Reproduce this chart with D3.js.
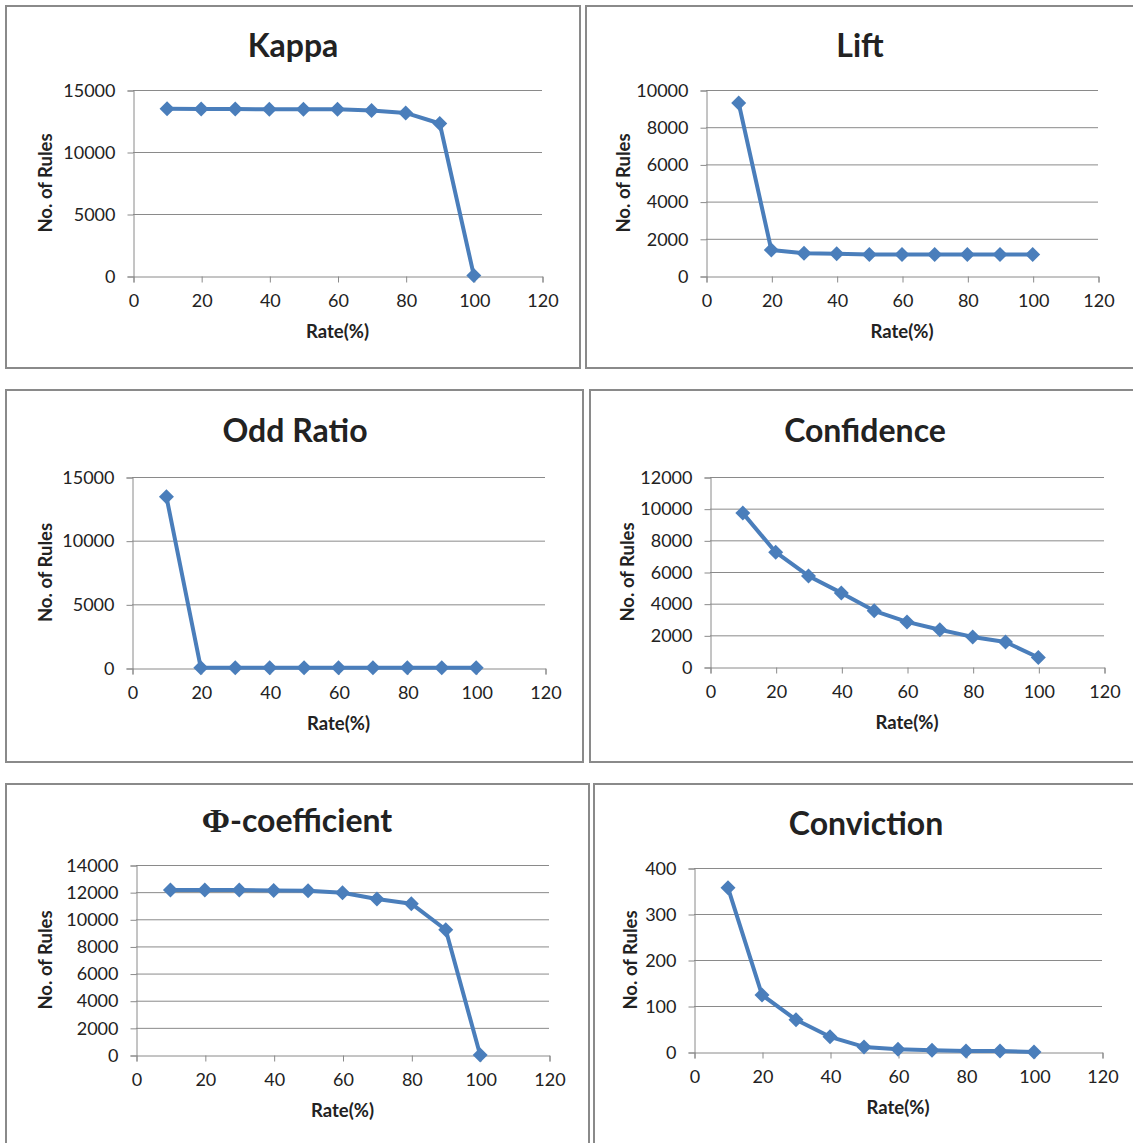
<!DOCTYPE html>
<html>
<head>
<meta charset="utf-8">
<script src="https://cdn.jsdelivr.net/npm/d3@7"></script>
<style>
  body { margin: 0; background: #fff; }
  svg { display: block; }
  text { font-family: Lato, "Open Sans", sans-serif; fill: #222; }
</style>
</head>
<body>
<svg width="1133" height="1143"></svg>
<script>
// values
var rates = [10, 20, 30, 40, 50, 60, 70, 80, 90, 100];
var xTicks = [0, 20, 40, 60, 80, 100, 120];

var kappaRules = [13480, 13460, 13460, 13450, 13450, 13440, 13350, 13150, 12300, 50];
var liftRules = [9300, 1400, 1220, 1200, 1150, 1150, 1150, 1150, 1150, 1150];
var oddRatioRules = [13450, 10, 10, 10, 10, 10, 10, 10, 10, 10];
var confidenceRules = [9720, 7250, 5750, 4680, 3550, 2850, 2350, 1900, 1580, 600];
var phiRules = [12160, 12160, 12150, 12120, 12110, 11950, 11500, 11150, 9230, 0];
var convictionRules = [357, 124, 70, 33, 11, 6, 4, 2, 2, 0];

var kappaTicks = [0, 5000, 10000, 15000];
var liftTicks = [0, 2000, 4000, 6000, 8000, 10000];
var oddRatioTicks = [0, 5000, 10000, 15000];
var confidenceTicks = [0, 2000, 4000, 6000, 8000, 10000, 12000];
var phiTicks = [0, 2000, 4000, 6000, 8000, 10000, 12000, 14000];
var convictionTicks = [0, 100, 200, 300, 400];

// layout of the six framed charts
var panels = [
  { title: "Kappa", values: kappaRules, yTicks: kappaTicks,
    box: [6, 6, 574, 362], plot: [133, 90, 542, 276], yLab: 46, titleY: 57, titleX: 293 },
  { title: "Lift", values: liftRules, yTicks: liftTicks,
    box: [586, 6, 560, 362], plot: [706, 90, 1098, 276], yLab: 624, titleY: 57, titleX: 860 },
  { title: "Odd Ratio", values: oddRatioRules, yTicks: oddRatioTicks,
    box: [6, 390, 577, 372], plot: [132, 477, 545, 668], yLab: 46, titleY: 442, titleX: 295 },
  { title: "Confidence", values: confidenceRules, yTicks: confidenceTicks,
    box: [590, 390, 560, 372], plot: [710, 477, 1104, 667], yLab: 628, titleY: 442, titleX: 865 },
  { title: "-coefficient", phi: true, values: phiRules, yTicks: phiTicks,
    box: [6, 784, 583, 400], plot: [136, 865, 549, 1055], yLab: 46, titleY: 832, titleX: 297 },
  { title: "Conviction", values: convictionRules, yTicks: convictionTicks,
    box: [594, 784, 560, 400], plot: [694, 868, 1102, 1052], yLab: 631, titleY: 835, titleX: 866 }
];

var svg = d3.select("svg");
var blue = "#4a7ebb";
var grey = "#8a8a8a";

panels.forEach(function(p) {
  var g = svg.append("g");
  var b = p.box;

  g.append("rect")
    .attr("x", b[0]).attr("y", b[1])
    .attr("width", b[2]).attr("height", b[3])
    .attr("fill", "none")
    .attr("stroke", grey)
    .attr("stroke-width", 2);

  var x = d3.scaleLinear().domain([0, 120]).range([p.plot[0], p.plot[2]]);
  var y = d3.scaleLinear()
    .domain([0, d3.max(p.yTicks)])
    .range([p.plot[3], p.plot[1]]);

  // horizontal gridlines
  g.selectAll(".grid")
    .data(p.yTicks.filter(function(t) { return t > 0; }))
    .enter()
    .append("line")
    .attr("x1", p.plot[0]).attr("x2", p.plot[2])
    .attr("y1", function(d) { return y(d) + 0.5; })
    .attr("y2", function(d) { return y(d) + 0.5; })
    .attr("stroke", grey)
    .attr("stroke-width", 1);

  var yAxis = g.append("g")
    .attr("transform", "translate(" + (p.plot[0] + 0.5) + ",0.5)")
    .call(d3.axisLeft(y).tickValues(p.yTicks).tickSize(6).tickPadding(12)
      .tickFormat(d3.format("d")));

  var xAxis = g.append("g")
    .attr("transform", "translate(0.5," + (p.plot[3] + 0.5) + ")")
    .call(d3.axisBottom(x).tickValues(xTicks).tickSize(6).tickPadding(12)
      .tickFormat(d3.format("d")));

  [xAxis, yAxis].forEach(function(a) {
    a.select(".domain").attr("stroke", grey);
    a.selectAll(".tick line").attr("stroke", grey);
    a.selectAll(".tick text")
      .attr("fill", "#222")
      .style("font-size", "18px")
      .style("font-family", "Lato, 'Open Sans', sans-serif");
  });

  // title
  var t = g.append("text")
    .attr("x", p.titleX).attr("y", p.titleY)
    .attr("text-anchor", "middle")
    .style("font-size", "32px")
    .style("font-weight", "bold");
  if (p.phi) {
    t.append("tspan")
      .style("font-family", "'Liberation Serif', 'DejaVu Serif', serif")
      .style("font-size", "34px")
      .text("\u03A6");
  }
  t.append("tspan").text(p.title);

  // axis titles
  g.append("text")
    .attr("x", (p.plot[0] + p.plot[2]) / 2)
    .attr("y", p.plot[3] + 62)
    .attr("text-anchor", "middle")
    .style("font-size", "18.5px")
    .style("font-weight", "bold")
    .text("Rate(%)");

  g.append("text")
    .attr("transform", "translate(" + (p.yLab + 6) + "," + ((p.plot[1] + p.plot[3]) / 2) + ") rotate(-90)")
    .attr("text-anchor", "middle")
    .style("font-size", "18.5px")
    .style("font-weight", "bold")
    .text("No. of Rules");

  // series
  var line = d3.line()
    .x(function(d, i) { return x(rates[i]); })
    .y(function(d) { return y(d); });

  g.append("path")
    .datum(p.values)
    .attr("d", line)
    .attr("fill", "none")
    .attr("stroke", blue)
    .attr("stroke-width", 4)
    .attr("stroke-linejoin", "round");

  g.selectAll(".dot")
    .data(p.values)
    .enter()
    .append("path")
    .attr("d", "M0,-7.5L7.5,0L0,7.5L-7.5,0Z")
    .attr("transform", function(d, i) {
      return "translate(" + x(rates[i]) + "," + y(d) + ")";
    })
    .attr("fill", blue);
});
</script>
</body>
</html>
